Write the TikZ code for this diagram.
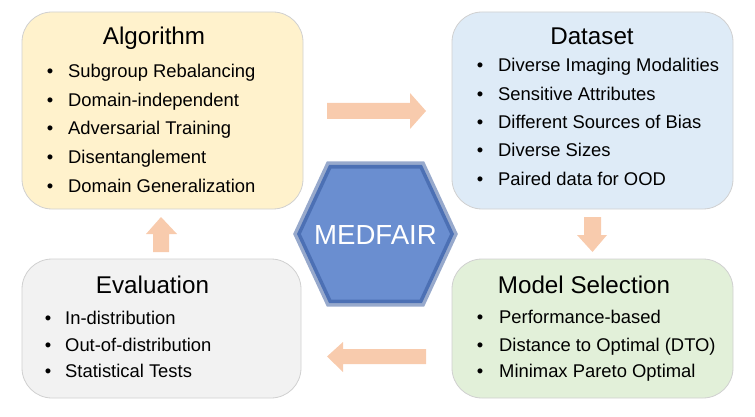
\documentclass[tikz,border=0pt]{standalone}
\usepackage{fontspec}
\setmainfont{Liberation Sans}
\usetikzlibrary{shapes.geometric}
\definecolor{algofill}{HTML}{FFF2CC}
\definecolor{datafill}{HTML}{DEEBF7}
\definecolor{evalfill}{HTML}{F2F2F2}
\definecolor{modelfill}{HTML}{E2F0D9}
\definecolor{boxline}{HTML}{D0D0D0}
\definecolor{arrowfill}{HTML}{F8CBAD}
\definecolor{hexfill}{HTML}{6A8ED0}
\definecolor{hexline}{HTML}{30549A}
\begin{document}
\begin{tikzpicture}[x=1pt,y=-1pt,
  panel/.style={draw=boxline, line width=0.8pt, rounded corners=30pt, inner sep=0pt},
  ttl/.style={anchor=base, inner sep=0pt, font=\fontsize{24.2}{28}\selectfont},
  itm/.style={anchor=base west, inner sep=0pt, font=\fontsize{18.4}{22}\selectfont},
  bul/.style={anchor=base, inner sep=0pt, font=\fontsize{18.4}{22}\selectfont},
  blockarrow/.style={fill=arrowfill, draw=none}]
\useasboundingbox (0,0) rectangle (755,417);
% panels
\node[panel, fill=algofill, minimum width=281pt, minimum height=197pt] (algo) at (162.5,110.5) {};
\node[panel, fill=datafill, minimum width=281pt, minimum height=197pt] (data) at (592.5,110.5) {};
\node[panel, fill=evalfill, minimum width=279pt, minimum height=139pt] (eval) at (161.5,328.5) {};
\node[panel, fill=modelfill, minimum width=281pt, minimum height=139pt] (model) at (592.5,328.5) {};
% hexagon
\draw[fill=hexfill, draw=hexline, draw opacity=0.5, line width=7pt, line join=miter]
  (297,234) -- (329,165) -- (422,165) -- (454,234) -- (422,303) -- (329,303) -- cycle;
\node[inner sep=0pt, anchor=base, text=white, font=\fontsize{27.6}{30}\selectfont] (hex) at (375.5,244) {MEDFAIR};
% block arrows
\fill[blockarrow] (327,103) -- (410,103) -- (410,93) -- (426,111) -- (410,129) -- (410,119) -- (327,119) -- cycle;
\fill[blockarrow] (584,217) -- (601,217) -- (601,235) -- (607,235) -- (592.5,252) -- (577,235) -- (584,235) -- cycle;
\fill[blockarrow] (426,349) -- (343,349) -- (343,342) -- (327,356.5) -- (343,372) -- (343,364) -- (426,364) -- cycle;
\fill[blockarrow] (153,252) -- (169,252) -- (169,234) -- (177,234) -- (161,217) -- (146,234) -- (153,234) -- cycle;
% Algorithm
\node[ttl] (algot) at (154,45) {Algorithm};
\foreach \t/\y [count=\i] in {Subgroup Rebalancing/78, Domain-independent/106.5, Adversarial Training/135, Disentanglement/163.5, Domain Generalization/192}{
  \node[bul] (algob\i) at (50,\y) {\textbullet};
  \node[itm] (algoi\i) at (68,\y) {\t};
}
% Dataset
\node[ttl] (datat) at (592,45) {Dataset};
\foreach \t/\y [count=\i] in {Diverse Imaging Modalities/72, Sensitive Attributes/100.5, Different Sources of Bias/129, Diverse Sizes/157, Paired data for OOD/185.5}{
  \node[bul] (datab\i) at (480,\y) {\textbullet};
  \node[itm] (datai\i) at (498,\y) {\t};
}
% Evaluation
\node[ttl] (evalt) at (152.5,293) {Evaluation};
\foreach \t/\y [count=\i] in {In-distribution/324, Out-of-distribution/351, Statistical Tests/377.5}{
  \node[bul] (evalb\i) at (48,\y) {\textbullet};
  \node[itm] (evali\i) at (65,\y) {\t};
}
% Model Selection
\node[ttl] (modelt) at (584,293) {Model Selection};
\foreach \t/\y [count=\i] in {Performance-based/323.5, Distance to Optimal (DTO)/351, Minimax Pareto Optimal/377.5}{
  \node[bul] (modelb\i) at (480,\y) {\textbullet};
  \node[itm] (modeli\i) at (499,\y) {\t};
}
\end{tikzpicture}
\end{document}
